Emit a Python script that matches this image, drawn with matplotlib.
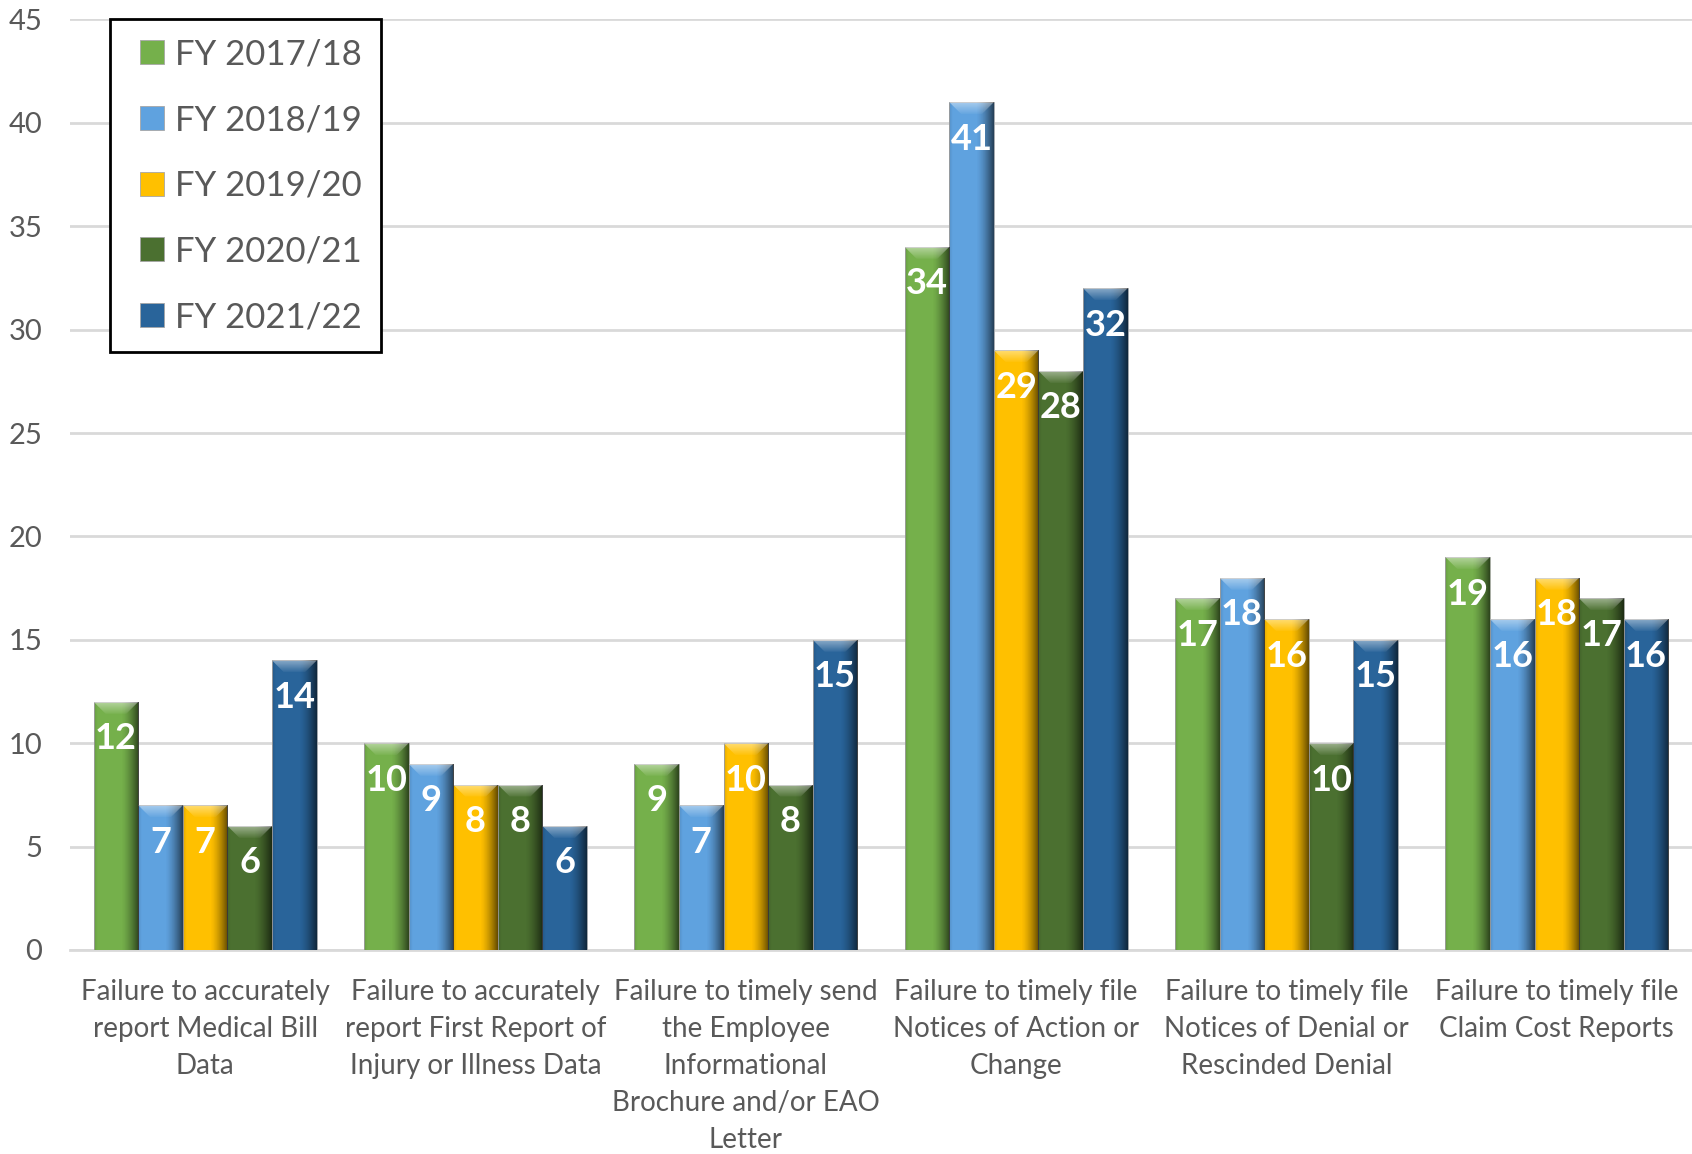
import numpy as np
import matplotlib
matplotlib.use("Agg")
import matplotlib.pyplot as plt
from matplotlib.patches import Patch, Polygon, Rectangle
from matplotlib.legend_handler import HandlerPatch

categories = [
    "Failure to accurately\nreport Medical Bill\nData",
    "Failure to accurately\nreport First Report of\nInjury or Illness Data",
    "Failure to timely send\nthe Employee\nInformational\nBrochure and/or EAO\nLetter",
    "Failure to timely file\nNotices of Action or\nChange",
    "Failure to timely file\nNotices of Denial or\nRescinded Denial",
    "Failure to timely file\nClaim Cost Reports",
]
series_names = ["FY 2017/18", "FY 2018/19", "FY 2019/20", "FY 2020/21", "FY 2021/22"]
fy1718 = [12, 10, 9, 34, 17, 19]
fy1819 = [7, 9, 7, 41, 18, 16]
fy1920 = [7, 8, 10, 29, 16, 18]
fy2021 = [6, 8, 8, 28, 10, 17]
fy2122 = [14, 6, 15, 32, 15, 16]
series_values = [fy1718, fy1819, fy1920, fy2021, fy2122]
colors = ["#75B04B", "#5FA2DF", "#FFC000", "#4B7030", "#29649A"]
y_ticks = [0, 5, 10, 15, 20, 25, 30, 35, 40, 45]

FONT = ["Lato", "DejaVu Sans"]
plt.rcParams["font.family"] = FONT

W, H, DPI = 1692, 1154, 100
fig = plt.figure(figsize=(W / DPI, H / DPI), dpi=DPI)
ax = fig.add_axes([70 / W, 1 - 950 / H, 1 - 70 / W, (950 - 19.4) / H])

x = np.arange(len(categories))
bw = 0.165
n = len(series_values)
ax.set_xlim(-0.5, len(categories) - 0.5)
ax.set_ylim(0, 45)

# pixel -> data conversions for bevel decoration
px_x = (len(categories)) / (W - 70)
px_y = 45 / (950 - 19.4)
bev = 12

gx = np.linspace(0, 1, 200)
alpha_h = np.clip((gx - 0.6) / 0.4, 0, 1) ** 1.5 * 0.62 + np.clip((0.08 - gx) / 0.08, 0, 1) * 0.12
shade = np.zeros((1, 200, 4))
shade[..., 3] = alpha_h

top = np.zeros((20, 1, 4))
top[..., :3] = 1.0
top[:, 0, 3] = np.linspace(0.45, 0.05, 20)

for i, (vals, col) in enumerate(zip(series_values, colors)):
    xs = x + (i - (n - 1) / 2) * bw
    bars = ax.bar(xs, vals, width=bw, color=col, edgecolor="#a6a6a6", linewidth=0.6, zorder=3)
    for b, v in zip(bars, vals):
        x0, w, h = b.get_x(), b.get_width(), b.get_height()
        im = ax.imshow(shade, extent=(x0, x0 + w, 0, h), aspect="auto", zorder=3.5,
                       interpolation="bilinear")
        im.set_clip_path(b)
        dx, dy = bev * px_x, bev * px_y
        trap = Polygon([(x0, h), (x0 + w, h), (x0 + w - dx, h - dy), (x0 + dx, h - dy)],
                       closed=True, facecolor="none", edgecolor="none", transform=ax.transData)
        ax.add_patch(trap)
        im2 = ax.imshow(top, extent=(x0, x0 + w, h - dy, h), aspect="auto", zorder=3.6,
                        interpolation="bilinear")
        im2.set_clip_path(trap)
        ax.annotate(str(v), (x0 + w / 2, h), xytext=(0, -37), textcoords="offset pixels",
                    ha="center", va="center", color="white", fontweight="bold",
                    fontsize=26, zorder=5)

ax.set_yticks(y_ticks)
ax.set_xticks(x)
ax.set_xticklabels(categories, fontsize=20, color="#595959", linespacing=1.52)
ax.tick_params(axis="y", length=0, pad=20, labelsize=21, labelcolor="#595959")
ax.tick_params(axis="x", length=0, pad=21)
ax.grid(axis="y", color="#d9d9d9", linewidth=2, zorder=0)
ax.set_axisbelow(True)
for s in ["top", "right", "left"]:
    ax.spines[s].set_visible(False)
ax.spines["bottom"].set_color("#d9d9d9")
ax.spines["bottom"].set_linewidth(2)


def square_right(legend, orig_handle, xdescent, ydescent, width, height, fontsize):
    return Rectangle((-xdescent + width - height, -ydescent), height, height)


handles = [Patch(facecolor=c, edgecolor="#a6a6a6", linewidth=0.6) for c in colors]
leg = ax.legend(handles, series_names, loc="upper left", bbox_to_anchor=(40 / 1622, 1.0),
                borderaxespad=0, fontsize=25, frameon=True, fancybox=False,
                handlelength=1.0, handleheight=0.68, handletextpad=0.32,
                labelspacing=0.97, borderpad=0.55,
                handler_map={Patch: HandlerPatch(patch_func=square_right)})
for t in leg.get_texts():
    t.set_color("#595959")
fr = leg.get_frame()
fr.set_edgecolor("black")
fr.set_linewidth(2)
fr.set_alpha(1)
leg.set_zorder(6)

fig.savefig("out.png", dpi=DPI)
